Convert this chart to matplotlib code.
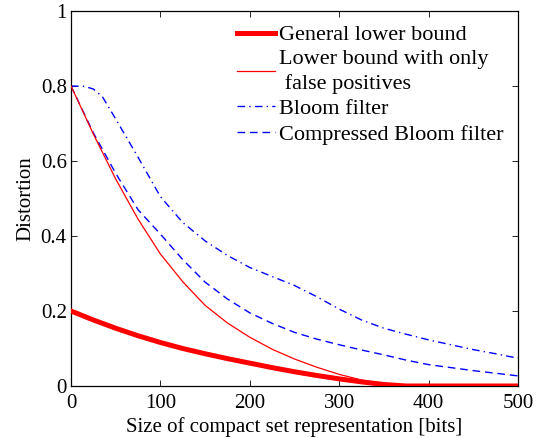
"""Distortion vs. size of compact set representation (bounds and Bloom filters)."""

import matplotlib

matplotlib.use("Agg")
import matplotlib.pyplot as plt  # noqa: E402

# data, bits vs distortion
bits = [0, 25, 50, 75, 100, 125, 150, 175, 200, 225, 250, 275, 300, 325, 350,
        375, 400, 425, 450, 475, 500]
general_lb = [0.200, 0.176, 0.154, 0.134, 0.116, 0.100, 0.086, 0.073, 0.061, 0.049,
              0.038, 0.028, 0.019, 0.011, 0.004, 0.0, 0.0, 0.0, 0.0, 0.0, 0.0]
fp_only_lb = [0.800, 0.672, 0.552, 0.445, 0.352, 0.278, 0.215, 0.168, 0.130, 0.098,
              0.072, 0.050, 0.031, 0.016, 0.005, 0.0, 0.0, 0.0, 0.0, 0.0, 0.0]
compressed_bloom = [0.800, 0.675, 0.567, 0.470, 0.405, 0.337, 0.277, 0.232, 0.195, 0.167,
                    0.143, 0.125, 0.110, 0.096, 0.083, 0.069, 0.057, 0.049, 0.041, 0.034, 0.027]
bloom_bits = [0, 15, 25, 35, 50, 75, 100, 125, 150, 175, 200, 225, 250, 275, 300, 325,
              350, 375, 400, 425, 450, 475, 500]
bloom = [0.800, 0.799, 0.792, 0.772, 0.712, 0.610, 0.505, 0.436, 0.387, 0.348, 0.316,
         0.292, 0.268, 0.238, 0.205, 0.176, 0.154, 0.138, 0.123, 0.110, 0.097, 0.086, 0.074]

labels = ["General lower bound", "Lower bound with only\n false positives",
          "Bloom filter", "Compressed Bloom filter"]
xticks = [0, 100, 200, 300, 400, 500]
yticks = [0, 0.2, 0.4, 0.6, 0.8, 1]
ytick_labels = ["0", "0.2", "0.4", "0.6", "0.8", "1"]

plt.rcParams["font.family"] = ["Liberation Serif", "DejaVu Serif"]
plt.rcParams["font.size"] = 15

fig = plt.figure(figsize=(5.41, 4.38), dpi=100)
ax = fig.add_axes([71 / 541, 52 / 438, 447 / 541, 375 / 438])

ax.plot(bits, general_lb, "-", color="#ff0000", lw=3.6, label=labels[0], zorder=3)
ax.plot(bits, fp_only_lb, "-", color="#ff0000", lw=0.9, label=labels[1], zorder=3)
ax.plot(bloom_bits, bloom, color="#0000ff", lw=1.0, dashes=(5.5, 3, 1, 3), label=labels[2])
ax.plot(bits, compressed_bloom, color="#0000ff", lw=1.0, dashes=(5.5, 3.5), label=labels[3])

ax.set_xlim(0, 500)
ax.set_ylim(0, 1)
ax.set_xticks(xticks)
ax.set_yticks(yticks)
ax.set_yticklabels(ytick_labels)
ax.tick_params(direction="in", top=True, right=True, length=4, width=0.6, pad=3)
ax.tick_params(axis="x", pad=6)
for sp in ax.spines.values():
    sp.set_linewidth(0.9)

ax.set_xlabel("Size of compact set representation [bits]", labelpad=3)
ax.set_ylabel("Distortion", labelpad=4)

leg = ax.legend(loc="upper right", bbox_to_anchor=(0.968, 0.963), frameon=False, fontsize=16,
                handlelength=1.7, handletextpad=0.2, labelspacing=0.22, borderpad=0,
                borderaxespad=0)
for t in leg.get_texts():
    t.set_linespacing(1.3)

fig.savefig("out.png", dpi=100)
